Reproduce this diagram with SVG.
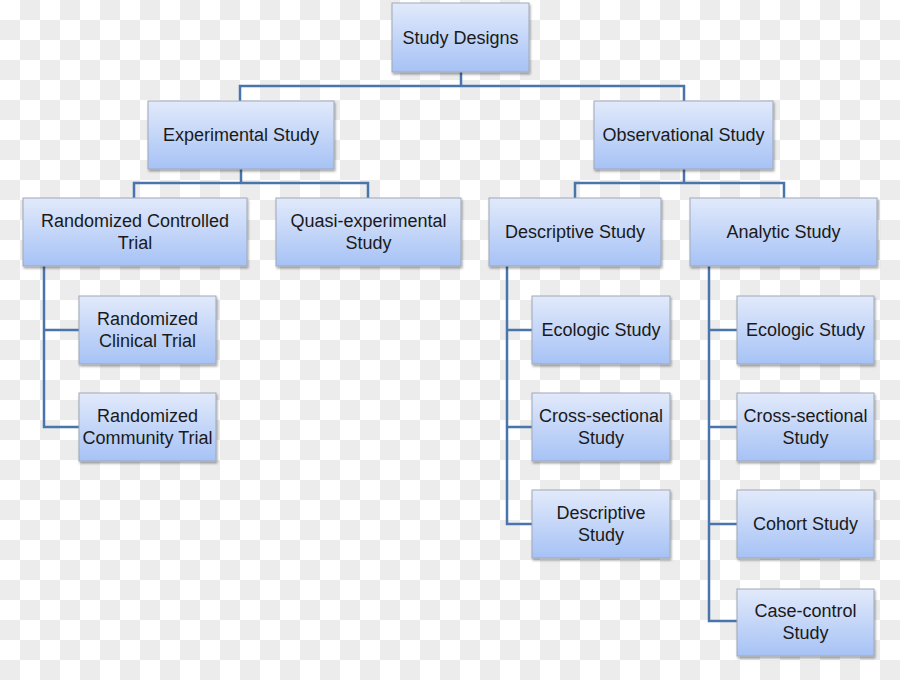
<svg xmlns="http://www.w3.org/2000/svg" width="900" height="680" viewBox="0 0 900 680">
<defs>
<pattern id="chk" x="0" y="0" width="40" height="40" patternUnits="userSpaceOnUse">
<rect width="40" height="40" fill="#ffffff"/>
<rect x="20" y="0" width="20" height="20" fill="#ececec"/>
<rect x="0" y="20" width="20" height="20" fill="#ececec"/>
</pattern>
<linearGradient id="g" x1="0" y1="0" x2="0" y2="1">
<stop offset="0" stop-color="#e2eafb"/>
<stop offset="1" stop-color="#a6c2f5"/>
</linearGradient>
<filter id="sh" x="-10%" y="-10%" width="130%" height="140%">
<feDropShadow dx="1" dy="2" stdDeviation="1.2" flood-color="#000" flood-opacity="0.35"/>
</filter>
</defs>
<style>
.box{fill:url(#g);stroke:#9fa8b8;stroke-width:1;filter:url(#sh)}
.t{font-family:"Liberation Sans",Arial,sans-serif;font-size:18px;fill:#1a1a1a;text-anchor:middle}
.c{fill:none;stroke:#4a74ac;stroke-width:2.5}
</style>
<rect width="900" height="680" fill="url(#chk)"/>
<g id="connectors">
<path class="c" d="M461 72 V86 M240 101 V86 H684 V101"/>
<path class="c" d="M241 169 V183 M134 198 V183 H368 V198"/>
<path class="c" d="M684 169 V183 M575 198 V183 H784 V198"/>
<path class="c" d="M44 266 V427 H79 M44 330 H79"/>
<path class="c" d="M507 266 V524 H532 M507 330 H532 M507 427 H532"/>
<path class="c" d="M709 266 V621 H737 M709 330 H737 M709 427 H737 M709 524 H737"/>
</g>
<g id="study-designs"><rect class="box" x="392" y="3" width="137" height="69"/><text class="t" x="460.5" y="43.5">Study Designs</text></g>
<g id="experimental"><rect class="box" x="148" y="101" width="186" height="68"/><text class="t" x="241" y="140.5">Experimental Study</text></g>
<g id="observational"><rect class="box" x="594" y="101" width="179" height="68"/><text class="t" x="683.5" y="140.5">Observational Study</text></g>
<g id="rct"><rect class="box" x="23" y="198" width="224" height="68"/><text class="t" x="135" y="227">Randomized Controlled</text><text class="t" x="135" y="249">Trial</text></g>
<g id="quasi"><rect class="box" x="276" y="198" width="185" height="68"/><text class="t" x="368.5" y="227">Quasi-experimental</text><text class="t" x="368.5" y="249">Study</text></g>
<g id="descriptive"><rect class="box" x="489" y="198" width="172" height="68"/><text class="t" x="575" y="238">Descriptive Study</text></g>
<g id="analytic"><rect class="box" x="690" y="198" width="187" height="68"/><text class="t" x="783.5" y="238">Analytic Study</text></g>
<g id="rand-clinical"><rect class="box" x="79" y="296" width="137" height="68"/><text class="t" x="147.5" y="325">Randomized</text><text class="t" x="147.5" y="347">Clinical Trial</text></g>
<g id="rand-community"><rect class="box" x="79" y="393" width="137" height="68"/><text class="t" x="147.5" y="422">Randomized</text><text class="t" x="147.5" y="444">Community Trial</text></g>
<g id="d-ecologic"><rect class="box" x="532" y="296" width="138" height="68"/><text class="t" x="601" y="336">Ecologic Study</text></g>
<g id="d-cross"><rect class="box" x="532" y="393" width="138" height="68"/><text class="t" x="601" y="422">Cross-sectional</text><text class="t" x="601" y="444">Study</text></g>
<g id="d-descriptive"><rect class="box" x="532" y="490" width="138" height="68"/><text class="t" x="601" y="519">Descriptive</text><text class="t" x="601" y="541">Study</text></g>
<g id="a-ecologic"><rect class="box" x="737" y="296" width="137" height="68"/><text class="t" x="805.5" y="336">Ecologic Study</text></g>
<g id="a-cross"><rect class="box" x="737" y="393" width="137" height="68"/><text class="t" x="805.5" y="422">Cross-sectional</text><text class="t" x="805.5" y="444">Study</text></g>
<g id="a-cohort"><rect class="box" x="737" y="490" width="137" height="68"/><text class="t" x="805.5" y="530">Cohort Study</text></g>
<g id="a-case"><rect class="box" x="737" y="589" width="137" height="67"/><text class="t" x="805.5" y="617">Case-control</text><text class="t" x="805.5" y="639">Study</text></g>
</svg>
